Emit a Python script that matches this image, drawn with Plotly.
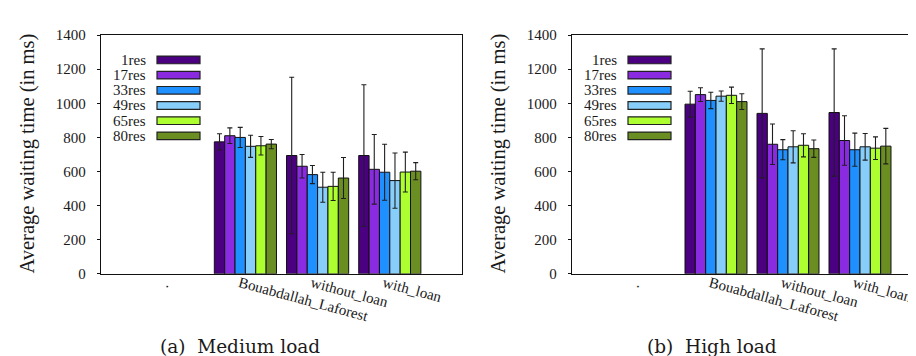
import plotly.graph_objects as go

# ---------------- data ----------------
categories = [".", "Bouabdallah_Laforest", "without_loan", "with_loan"]
series = ["1res", "17res", "33res", "49res", "65res", "80res"]
colors = ["#4B0082", "#8A2BE2", "#1E90FF", "#87CEFA", "#ADFF2F", "#6B8E23"]

# (a) Medium load – mean per series, for each non-empty category
medium_bl = [774, 810, 800, 748, 751, 761]
medium_without = [694, 631, 582, 508, 513, 562]
medium_with = [694, 613, 596, 547, 597, 602]
medium_bl_err = [48, 46, 59, 65, 54, 27]
medium_without_err = [459, 69, 53, 88, 83, 120]
medium_with_err = [415, 204, 164, 162, 117, 50]

# (b) High load
high_bl = [995, 1051, 1017, 1042, 1047, 1010]
high_without = [941, 760, 728, 745, 754, 734]
high_with = [946, 782, 728, 745, 737, 749]
high_bl_err = [76, 40, 48, 30, 48, 46]
high_without_err = [378, 119, 59, 94, 68, 51]
high_with_err = [373, 145, 97, 78, 66, 104]

y_ticks = [0, 200, 400, 600, 800, 1000, 1200, 1400]
y_title = "Average waiting time (in ms)"
captions = ["(a)  Medium load", "(b)  High load"]

# ---------------- figure ----------------
W, H = 916, 356
TXT = "#1a1a1a"
FONT = "Liberation Serif, Times New Roman, serif"

fig = go.Figure()

panels = [
    (medium_bl, medium_without, medium_with, medium_bl_err, medium_without_err, medium_with_err, "x", "y"),
    (high_bl, high_without, high_with, high_bl_err, high_without_err, high_with_err, "x2", "y2"),
]
for bl, wo, wl, ebl, ewo, ewl, xa, ya in panels:
    for i, name in enumerate(series):
        fig.add_trace(go.Bar(
            x=categories,
            y=[None, bl[i], wo[i], wl[i]],
            name=name,
            marker=dict(color=colors[i], line=dict(color="#111111", width=1)),
            error_y=dict(type="data", array=[0, ebl[i], ewo[i], ewl[i]], symmetric=True,
                         color="#1f1f1f", thickness=1.1, width=2.5),
            xaxis=xa, yaxis=ya, showlegend=False,
        ))

def px_x(p):
    return p / W

def px_y(p):
    return 1 - p / H

ydom = [px_y(270), px_y(20)]
axis_line = dict(showline=True, linecolor="#111111", linewidth=1.3)

common_x = dict(type="category", categoryorder="array", categoryarray=categories,
                tickangle=15, ticks="", showgrid=False, mirror=True,
                ticklabelshift=-6, ticklabelstandoff=-6,
                tickfont=dict(family=FONT, size=15, color=TXT), **axis_line)
common_y = dict(range=[0, 1400], tickvals=y_ticks, ticks="outside", ticklen=3,
                tickcolor="#111111", showgrid=False, zeroline=False,
                ticklabelstandoff=8,
                tickfont=dict(family=FONT, size=15, color=TXT), **axis_line)

fig.update_layout(
    width=W, height=H,
    margin=dict(l=0, r=0, t=0, b=0),
    paper_bgcolor="white", plot_bgcolor="white",
    barmode="group", bargap=0.139, bargroupgap=0,
    xaxis=dict(domain=[px_x(93), px_x(454)], range=[-1, 4], anchor="y", **common_x),
    yaxis=dict(domain=ydom, anchor="x", mirror=True, **common_y),
    xaxis2=dict(domain=[px_x(564), 1.0], range=[-1, 3.889], anchor="y2", **common_x),
    yaxis2=dict(domain=ydom, anchor="x2", mirror=False, **common_y),
    yaxis3=dict(overlaying="y", side="right", anchor="x", range=[0, 1400], tickvals=y_ticks,
                ticks="inside", ticklen=3, tickcolor="#111111", showticklabels=False,
                showgrid=False, zeroline=False, showline=False),
    showlegend=False,
)

# manual legends (text right-aligned, swatch to its right) in each panel
legend_specs = [(140, 149, 192), (611, 620, 663)]
row_y0, row_dy = 46, 15.9
shapes, annotations = [], []
for text_right, sx0, sx1 in legend_specs:
    for i, name in enumerate(series):
        cy = row_y0 + i * row_dy
        shapes.append(dict(type="rect", xref="paper", yref="paper",
                           x0=px_x(sx0), x1=px_x(sx1), y0=px_y(cy + 4), y1=px_y(cy - 4),
                           fillcolor=colors[i], line=dict(color="#222222", width=1.2)))
        annotations.append(dict(text=name, xref="paper", yref="paper",
                                x=px_x(text_right), y=px_y(cy), xanchor="right", yanchor="middle",
                                showarrow=False, font=dict(family=FONT, size=15, color=TXT)))

# y titles
for cx in (20, 491):
    annotations.append(dict(text=y_title, xref="paper", yref="paper",
                            x=px_x(cx), y=px_y(144), textangle=-90,
                            xanchor="center", yanchor="middle", showarrow=False,
                            font=dict(family=FONT, size=20.5, color=TXT)))

# captions
for cx, cap in zip((232, 704), captions):
    annotations.append(dict(text=cap, xref="paper", yref="paper",
                            x=px_x(cx), y=px_y(346), xanchor="center", yanchor="middle",
                            showarrow=False, font=dict(family="DejaVu Serif", size=18.5, color=TXT)))

fig.update_layout(shapes=shapes, annotations=annotations)

fig.write_html("out.html")
